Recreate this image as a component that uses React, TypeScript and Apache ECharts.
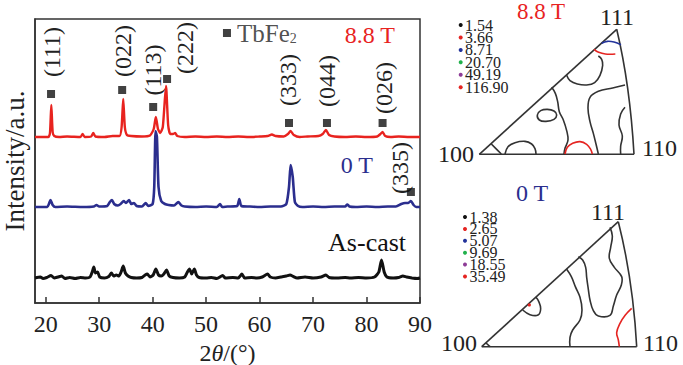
import React, { useEffect, useRef } from "react";
import * as echarts from "echarts";

// ---------- XRD data (2θ, intensity above each pattern's baseline) ----------
const xTicks = [20, 30, 40, 50, 60, 70, 80, 90];
const baselineAsCast = 25;
const baseline0T = 96;
const baseline88T = 166;

const asCast: number[][] = [
  [18, 0], [19, 1], [19.5, -0.5], [20.2, 0.5], [21, 2.5], [21.6, 0], [22.3, 1], [23, 2], [23.6, -0.5],
  [24.5, 0.5], [25.5, -0.5], [26.5, 0.5], [27.5, 0], [28.3, 1], [28.7, 6], [29, 11], [29.3, 5], [29.7, 6],
  [30.1, 1], [31, 0], [31.8, 1.5], [32.3, 5], [32.7, 2], [33.2, 3], [33.7, 2], [34.1, 6], [34.5, 12],
  [34.9, 5], [35.4, 2], [36, 0.5], [37, 0], [38, 0.5], [38.6, 3], [39, 4], [39.5, 1], [40.1, 3], [40.6, 9],
  [41.1, 3], [41.6, 2], [42.1, 4], [42.6, 8], [43.1, 2], [43.8, 0.5], [45, 0], [46, 1], [46.5, 6], [46.9, 9],
  [47.3, 4], [47.8, 9], [48.2, 3], [48.7, 0.5], [50, 0], [51, 0.5], [52, -0.5], [53.1, 2.5], [53.6, 0],
  [55, 0.5], [56, 0], [56.7, 4], [57.2, 0], [58.5, 0.5], [59.5, 0], [60.5, 1], [61.5, 4], [62, 1], [63, 0],
  [64, 1], [65, 2], [65.7, 3], [66.3, 1.5], [67, 0], [68.5, 1], [70, 0], [71.5, 1], [72.4, 3], [73, 0.5],
  [74.5, 0], [76, 0.5], [77, 0], [78.5, 0.5], [80, 0], [81.5, 1], [82.3, 6], [82.8, 18], [83.3, 6], [83.8, 1],
  [85, 0], [86, 0.5], [86.8, 2], [87.5, 1], [88.5, 0], [89.5, -0.5], [90, 0],
];

const field0T: number[][] = [
  [18, 0], [20.3, 0], [20.6, 3], [20.9, 7], [21.3, 2], [21.8, 0], [24, 0.5], [27, 0], [29, 0.5], [29.5, 2],
  [30, 0.5], [31.5, 1], [32, 5], [32.4, 7], [32.8, 3], [33.5, 1.5], [34, 3], [34.6, 6], [35, 4], [35.6, 7],
  [36, 3], [36.5, 4], [37, 1], [38, 0.5], [38.7, 4], [39.2, 1], [40, 3], [40.3, 20], [40.55, 76], [40.8, 70],
  [41.1, 20], [41.6, 6], [42.3, 3], [43, 2], [44, 1.5], [44.8, 5], [45.4, 1.5], [46, 0.5], [48, 0], [50, 0.5],
  [52, 0], [52.6, 3], [53, 0], [54, 0.5], [55.8, 1], [56.2, 8], [56.6, 1], [58, 0.5], [60, 0], [62, 0.5],
  [64, 0.5], [65, 3], [65.5, 20], [65.8, 42], [66.2, 30], [66.6, 5], [67.2, 1], [68, 0], [70, 0.5], [72, 0],
  [74, 0.5], [76, 0.5], [76.4, 2.5], [76.8, 0.5], [78, 0], [80, 0.5], [82, 0], [84, 0.5], [85.5, 0.5],
  [86.5, 3], [87.2, 4], [87.8, 4], [88.3, 6], [88.8, 2], [89.3, 0], [90, 0],
];

const field88T: number[][] = [
  [18, 0], [20.5, 0], [20.8, 4], [21.05, 32], [21.3, 5], [21.6, 1], [22.5, 0], [24, 0.5], [26.5, 0],
  [26.9, 3], [27.3, 0], [28.5, 0.5], [28.9, 4], [29.3, 0.5], [31, 0], [32.5, 1], [33.8, 1], [34.2, 10],
  [34.5, 38], [34.8, 10], [35.2, 2], [36, 1], [38, 0.5], [39.5, 1.5], [40.2, 8], [40.6, 20], [41, 8],
  [41.4, 4], [41.9, 10], [42.5, 51], [42.9, 12], [43.3, 3], [43.8, 3], [44.2, 4], [44.6, 1], [46, 0],
  [48, 0.5], [50, 0], [52, 0.5], [54, 0], [56, 0.5], [58, 0], [60, 0.5], [61.5, 1], [62.3, 2.5], [63, 1],
  [64.5, 0.5], [65.3, 3], [65.8, 6], [66.4, 2], [67.5, 0], [69, 0.5], [71, 1], [71.8, 3], [72.4, 7], [73, 2],
  [74, 0.5], [76, 0], [78, 0.5], [80, 0], [82, 0.5], [82.6, 3], [83, 5], [83.5, 1], [84.5, 0], [86, 0.5],
  [88, 0], [90, 0],
];

const peakLabels = ["(111)", "(022)", "(113)", "(222)", "(333)", "(044)", "(026)", "(335)"];
const peakMarks: number[][] = [
  [21.0, 209], [34.3, 213], [40.1, 196], [42.7, 224], [65.5, 180], [72.6, 180], [83.0, 180], [88.3, 111],
];
const peakLabelAt: number[][] = [
  [21.2, 251], [34.4, 252], [40.1, 233], [46.0, 255], [65.3, 223], [72.6, 222], [83.2, 215], [86.2, 135],
];
const legendMark: number[] = [53.9, 270];
const sampleNames = ["8.8 T", "0 T", "As-cast"];
const sampleNameAt: number[][] = [[80.6, 268], [78.2, 138], [80.1, 61]];
const sampleColors = ["#e8231f", "#2b2e8e", "#111111"];

// ---------- inverse pole figure legends ----------
const ipfTopValues = ["1.54", "3.66", "8.71", "20.70", "49.19", "116.90"];
const ipfBottomValues = ["1.38", "2.65", "5.07", "9.69", "18.55", "35.49"];
const ipfColors = ["#111111", "#e52421", "#23339a", "#22b14c", "#8e3c97", "#e52421"];

const FONT = "Liberation Serif";
const RED = "#e8231f";
const BLUE = "#2b2e8e";
const EDGE = "#333333";

const T1 = (pts: number[][]) => pts.map(([x, y]) => [430 + x / 3, y / 3]);
const T2 = (pts: number[][]) => pts.map(([x, y]) => [430 + x / 3, 180 + y / 3]);

function curve(points: number[][], color: string, closed = false) {
  return {
    type: closed ? "polygon" : "polyline",
    silent: true,
    shape: { points, smooth: 0.4 },
    style: { stroke: color, lineWidth: 1.6, fill: null },
  };
}

function txt(x: number, y: number, text: string, size: number, color: string, align = "center", extra: any = {}) {
  return {
    type: "text",
    silent: true,
    x,
    y,
    ...extra,
    style: { text, fontFamily: FONT, fontSize: size, fill: color, align, verticalAlign: "middle", ...(extra.style || {}) },
  };
}

function buildGraphic() {
  const g: any[] = [];
  // ---- top IPF (8.8 T)
  g.push({ type: "line", silent: true, shape: { x1: 479.3, y1: 154.3, x2: 634, y2: 154.3 }, style: { stroke: EDGE, lineWidth: 1.6 } });
  g.push({ type: "line", silent: true, shape: { x1: 479.3, y1: 154.3, x2: 616.7, y2: 29.3 }, style: { stroke: EDGE, lineWidth: 1.6 } });
  g.push({ type: "bezierCurve", silent: true, shape: { x1: 616.7, y1: 29.3, x2: 634, y2: 154.3, cpx1: 630, cpy1: 85 }, style: { stroke: EDGE, lineWidth: 1.6, fill: null } });
  g.push(curve(T1([[515, 130], [532, 124], [552, 126], [573, 134]]), "#23339a"));
  g.push(curve(T1([[492, 148], [506, 157], [526, 162], [556, 162]]), "#e52421"));
  g.push(curve(T1([[410, 226], [420, 242], [442, 252], [470, 255], [494, 248], [510, 226], [518, 196], [515, 178], [505, 168]]), EDGE));
  g.push(curve(T1([[365, 262], [376, 280], [383, 305], [388, 335], [400, 360], [410, 392], [414, 420], [405, 445], [402, 462]]), EDGE));
  g.push(curve(T1([[585, 255], [548, 264], [505, 274], [480, 292], [474, 325], [480, 365], [490, 400], [498, 432], [505, 462]]), EDGE));
  g.push(curve(T1([[405, 462], [412, 442], [428, 430], [450, 425], [470, 433], [482, 448], [487, 462]]), "#e52421"));
  g.push(curve(T1([[322, 345], [332, 332], [352, 328], [372, 333], [380, 345], [372, 358], [348, 364], [328, 360]]), EDGE, true));
  g.push(curve(T1([[225, 462], [234, 440], [255, 428], [285, 424], [305, 432], [315, 446], [318, 462]]), EDGE));
  g.push(curve(T1([[184, 432], [200, 448], [214, 462]]), EDGE));
  g.push(curve(T1([[585, 322], [572, 342], [567, 375], [577, 408], [572, 438], [572, 462]]), EDGE));
  g.push(txt(617, 17, "111", 24, "#222"));
  g.push(txt(474, 154, "100", 24, "#222", "right"));
  g.push(txt(642, 148, "110", 24, "#222", "left"));
  g.push(txt(541, 11, "8.8 T", 23, RED));
  ipfTopValues.forEach((v, i) => {
    const y = 25 + i * 12.45;
    g.push({ type: "circle", silent: true, shape: { cx: 460.7, cy: y, r: 2 }, style: { fill: ipfColors[i] } });
    g.push(txt(465, y, v, 16, "#222", "left", { style: { lineHeight: 12 } }));
  });

  // ---- bottom IPF (0 T)
  g.push({ type: "line", silent: true, shape: { x1: 481.7, y1: 346.7, x2: 636.7, y2: 346.7 }, style: { stroke: EDGE, lineWidth: 1.6 } });
  g.push({ type: "line", silent: true, shape: { x1: 481.7, y1: 346.7, x2: 618.3, y2: 221.7 }, style: { stroke: EDGE, lineWidth: 1.6 } });
  g.push({ type: "bezierCurve", silent: true, shape: { x1: 618.3, y1: 221.7, x2: 636.7, y2: 346.7, cpx1: 633, cpy1: 280 }, style: { stroke: EDGE, lineWidth: 1.6, fill: null } });
  g.push(curve(T2([[540, 142], [547, 168], [542, 202], [538, 235], [553, 262], [575, 290], [574, 315], [560, 345], [550, 378], [540, 406], [505, 408], [490, 392], [480, 360], [475, 328], [470, 292], [467, 262], [458, 240], [445, 230]]), EDGE));
  g.push(curve(T2([[410, 268], [424, 290], [436, 320], [450, 352], [456, 390], [450, 420], [428, 450], [420, 472], [420, 500]]), EDGE));
  g.push(curve(T2([[278, 390], [300, 404], [324, 405], [332, 386], [326, 364], [318, 352]]), EDGE));
  g.push(curve(T2([[605, 385], [586, 405], [570, 430], [560, 458], [565, 480], [568, 500]]), "#e52421"));
  g.push(curve(T2([[168, 489], [180, 500]]), EDGE));
  g.push({ type: "circle", silent: true, shape: { cx: 430 + 298 / 3, cy: 180 + 375 / 3, r: 1.6 }, style: { fill: "#e52421" } });
  g.push(txt(608, 212, "111", 24, "#222"));
  g.push(txt(477, 343, "100", 24, "#222", "right"));
  g.push(txt(643, 343, "110", 24, "#222", "left"));
  g.push(txt(532, 193, "0 T", 24, BLUE));
  ipfBottomValues.forEach((v, i) => {
    const y = 217 + i * 11.9;
    g.push({ type: "circle", silent: true, shape: { cx: 465, cy: y, r: 2 }, style: { fill: ipfColors[i] } });
    g.push(txt(469.5, y, v, 16, "#222", "left", { style: { lineHeight: 11 } }));
  });
  return g;
}

export default function App() {
  const ref = useRef<HTMLDivElement>(null);
  useEffect(() => {
    if (!ref.current) return;
    const chart = echarts.init(ref.current, undefined, { renderer: "svg" });
    const shift = (arr: number[][], b: number) => arr.map(([x, y]) => [x, y + b]);
    const option: any = {
      animation: false,
      backgroundColor: "#ffffff",
      grid: {
        left: 35, top: 19, width: 385, height: 284, show: true, borderColor: EDGE, borderWidth: 1.5,
        containLabel: false, outerBoundsMode: "none",
      },
      xAxis: {
        type: "value",
        min: 18,
        max: 90,
        axisLine: { show: true, lineStyle: { color: EDGE, width: 1.5 } },
        axisTick: { show: true, inside: true, length: 6, customValues: xTicks, lineStyle: { color: EDGE, width: 1.5 } },
        axisLabel: { customValues: xTicks, fontFamily: FONT, fontSize: 24, color: "#222", margin: 9 },
        splitLine: { show: false },
        name: "{n|2}{i|θ}{n|/(°)}",
        nameLocation: "middle",
        nameGap: 32,
        nameTextStyle: {
          lineHeight: 22,
          rich: {
            n: { fontFamily: FONT, fontSize: 24, color: "#222", lineHeight: 22 },
            i: { fontFamily: FONT, fontSize: 24, color: "#222", fontStyle: "italic", lineHeight: 22 },
          },
        },
      },
      yAxis: {
        type: "value",
        min: 0,
        max: 284,
        axisLine: { show: true, lineStyle: { color: EDGE, width: 1.5 } },
        axisTick: { show: false },
        axisLabel: { show: false },
        splitLine: { show: false },
        name: "Intensity/a.u.",
        nameLocation: "middle",
        nameGap: 7,
        nameRotate: 90,
        nameTextStyle: { fontFamily: FONT, fontSize: 27, color: "#222" },
      },
      series: [
        {
          type: "line", data: shift(asCast, baselineAsCast), showSymbol: false, smooth: 0.2,
          lineStyle: { color: sampleColors[2], width: 3 }, z: 2,
        },
        {
          type: "line", data: shift(field0T, baseline0T), showSymbol: false, smooth: 0.2,
          lineStyle: { color: sampleColors[1], width: 2.6 }, z: 3,
        },
        {
          type: "line", data: shift(field88T, baseline88T), showSymbol: false, smooth: 0.2,
          lineStyle: { color: sampleColors[0], width: 2.4 }, z: 4,
        },
        {
          type: "scatter", symbol: "rect", symbolSize: 8, itemStyle: { color: "#111" }, z: 5,
          data: peakMarks,
        },
        {
          type: "scatter", symbol: "rect", symbolSize: 8, itemStyle: { color: "#111" }, z: 5,
          data: [legendMark],
          label: {
            show: true, position: "right", distance: 6, formatter: "{a|TbFe}{s|2}",
            rich: {
              a: { fontFamily: FONT, fontSize: 25, color: "#222" },
              s: { fontFamily: FONT, fontSize: 14, color: "#222", verticalAlign: "bottom", padding: [11, 0, 0, 0] },
            },
          },
        },
      ],
    };
    chart.setOption(option);
    const toPx = (p: number[]) => chart.convertToPixel({ gridIndex: 0 }, p) as number[];
    const ann: any[] = [];
    peakLabelAt.forEach((p, i) => {
      const [x, y] = toPx(p);
      ann.push(txt(x, y, peakLabels[i], 24, "#222", "center", { rotation: Math.PI / 2 }));
    });
    sampleNameAt.forEach((p, i) => {
      const [x, y] = toPx(p);
      ann.push(txt(x, y, sampleNames[i], i === 2 ? 26 : 24, sampleColors[i]));
    });
    chart.setOption({ graphic: [...buildGraphic(), ...ann] });
    return () => chart.dispose();
  }, []);
  return (
    <div
      ref={ref}
      style={{ position: "absolute", left: 0, top: 0, width: 683, height: 365, background: "#fff" }}
    />
  );
}
